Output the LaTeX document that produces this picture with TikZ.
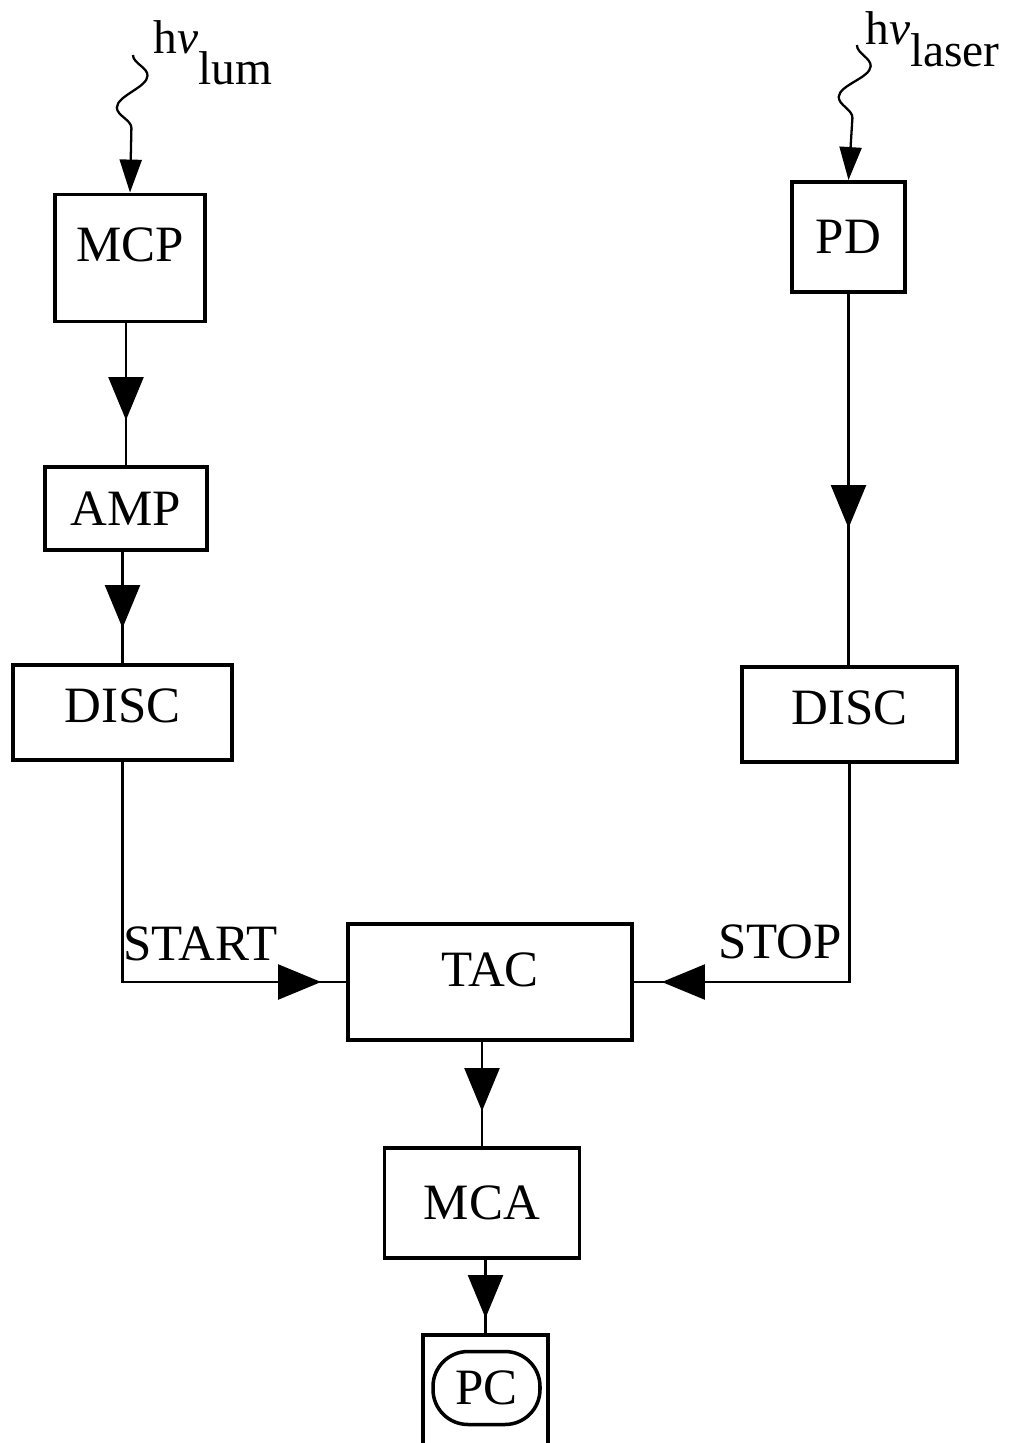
\documentclass[tikz,border=0pt]{standalone}
\usepackage{fontspec}
\setmainfont{Liberation Serif}
\usetikzlibrary{arrows.meta,decorations.pathmorphing,decorations.markings}

\tikzset{
  box/.style={draw, line width=2.2pt, inner sep=0pt, font=\fontsize{29}{32}\selectfont},
  conn/.style={line width=1.3pt},
  midarrow/.style={postaction={decorate}, decoration={markings,
      mark=at position #1 with {\arrow{Triangle[length=0.86cm,width=0.7cm]}}}},
  photon/.style={line width=1.3pt, decorate, decoration={snake, amplitude=0.3cm,
      segment length=1.3cm, post length=0.9cm}, -{Triangle[length=0.66cm,width=0.44cm]}},
  lbl/.style={inner sep=0pt, font=\fontsize{29}{32}\selectfont},
  photonlbl/.style={inner sep=0pt, font=\fontsize{27}{30}\selectfont},
}

\begin{document}
\begin{tikzpicture}[x=0.02cm, y=-0.02cm]
    \useasboundingbox (0,0) rectangle (1022,1443);
    \clip (0,0) rectangle (1022,1443);

    % Left branch: luminescence
    \node[box, minimum width=3cm, minimum height=2.54cm, text depth=0.52cm] (mcp) at (130,258) {MCP};
    \node[box, minimum width=3.24cm, minimum height=1.66cm] (amp) at (126,508.5) {AMP};
    \node[box, minimum width=4.38cm, minimum height=1.9cm, text depth=0.28cm] (discl) at (122.5,712.5) {DISC};

    % Right branch: laser reference
    \node[box, minimum width=2.26cm, minimum height=2.2cm] (pd) at (848.5,237) {PD};
    \node[box, minimum width=4.3cm, minimum height=1.9cm, text depth=0.28cm] (discr) at (849.5,714.5) {DISC};

    % Timing chain
    \node[box, minimum width=5.68cm, minimum height=2.32cm, text depth=0.48cm] (tac) at (490,982) {TAC};
    \node[box, minimum width=3.9cm, minimum height=2.2cm] (mca) at (482,1203) {MCA};
    \node[box, minimum width=2.5cm, minimum height=2.5cm] (pcbox) at (485.5,1397.5) {};
    \node[box, line width=2pt, rounded corners=0.7cm, minimum width=2.14cm, minimum height=1.46cm] (pc) at (486.5,1388) {PC};

    % Photons
    \coordinate (lumsrc) at (133,55);
    \coordinate (lasersrc) at (857,45);
    \draw[photon] (lumsrc) -- (mcp.north);
    \draw[photon] (lasersrc) -- (pd.north);
    \node[photonlbl, anchor=base west] (lumlbl) at (153,54) {h{\itshape ν}\raisebox{-0.62cm}{lum}};
    \node[photonlbl, anchor=base west] (laserlbl) at (865,45) {h{\itshape ν}\raisebox{-0.44cm}{laser}};

    % Signal lines
    \draw[conn, midarrow=-0.9cm] (mcp.south -| amp.north) -- (amp.north);
    \draw[conn, midarrow=-0.7cm] (amp.south -| discl.north) -- (discl.north);
    \draw[conn, midarrow=-2.74cm] (pd.south) -- (pd.south |- discr.north);
    \draw[conn, midarrow=-0.5cm] (discl.south) |- (tac.west);
    \draw[conn, midarrow=-0.56cm] (discr.south) |- (tac.east);
    \draw[conn, midarrow=-0.7cm] (tac.south -| mca.north) -- (mca.north);
    \draw[conn, midarrow=-0.3cm] (mca.south -| pcbox.north) -- (pcbox.north);

    % Labels
    \node[lbl, anchor=base west] (startlbl) at (123,960) {START};
    \node[lbl, anchor=base west] (stoplbl) at (718,958) {STOP};
\end{tikzpicture}
\end{document}
